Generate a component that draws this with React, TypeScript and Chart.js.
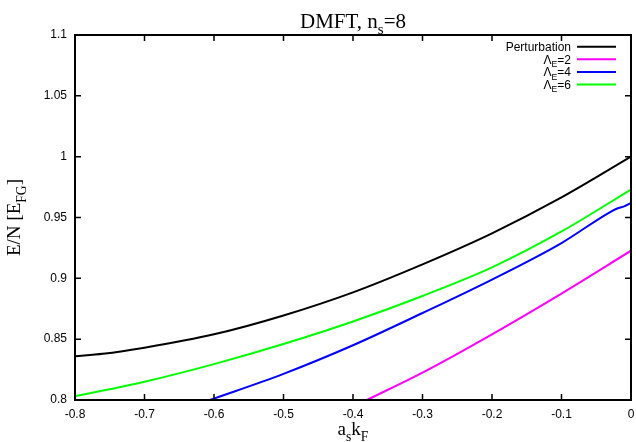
import { useEffect, useRef } from 'react';
import { Chart, registerables } from 'chart.js';

Chart.register(...registerables);

const xTicks = [-0.8, -0.7, -0.6, -0.5, -0.4, -0.3, -0.2, -0.1, 0];
const xTickLabels = ['-0.8', '-0.7', '-0.6', '-0.5', '-0.4', '-0.3', '-0.2', '-0.1', '0'];
const yTicks = [0.8, 0.85, 0.9, 0.95, 1, 1.05, 1.1];
const yTickLabels = ['0.8', '0.85', '0.9', '0.95', '1', '1.05', '1.1'];

const xPert = [-0.8, -0.76, -0.7, -0.6, -0.5, -0.4, -0.3, -0.2, -0.1, 0];
const yPert = [0.836, 0.838, 0.843, 0.854, 0.8695, 0.8885, 0.9115, 0.937, 0.9665, 1.0];

const xL2 = [-0.38, -0.3, -0.2, -0.1, 0];
const yL2 = [0.8, 0.8225, 0.854, 0.8875, 0.9227];

const xL4 = [-0.606, -0.5, -0.4, -0.3, -0.2, -0.1, -0.03, -0.018, -0.01, 0];
const yL4 = [0.8, 0.8215, 0.845, 0.8715, 0.899, 0.929, 0.9545, 0.9578, 0.9592, 0.962];

const xL6 = [-0.8, -0.7, -0.6, -0.5, -0.4, -0.3, -0.2, -0.1, 0];
const yL6 = [0.803, 0.815, 0.8295, 0.846, 0.8645, 0.8855, 0.909, 0.9385, 0.973];

type Seg = { t: string; sub?: boolean };

const seriesNames: Seg[][] = [
  [{ t: 'Perturbation' }],
  [{ t: 'Λ' }, { t: 'E', sub: true }, { t: '=2' }],
  [{ t: 'Λ' }, { t: 'E', sub: true }, { t: '=4' }],
  [{ t: 'Λ' }, { t: 'E', sub: true }, { t: '=6' }],
];
const seriesColors = ['#000000', '#ff00ff', '#0000ff', '#00ff00'];

const titleSegs: Seg[] = [{ t: 'DMFT, n' }, { t: 's', sub: true }, { t: '=8' }];
const xTitleSegs: Seg[] = [{ t: 'a' }, { t: 's', sub: true }, { t: 'k' }, { t: 'F', sub: true }];
const yTitleSegs: Seg[] = [{ t: 'E/N [E' }, { t: 'FG', sub: true }, { t: ']' }];

const SERIF = '"Liberation Serif", "Times New Roman", serif';
const SANS = '"Liberation Sans", Arial, sans-serif';

function drawRich(
  ctx: CanvasRenderingContext2D,
  segs: Seg[],
  x: number,
  y: number,
  size: number,
  family: string,
  align: 'left' | 'center' | 'right'
) {
  const subSize = size * 0.72;
  const widths = segs.map((s) => {
    ctx.font = `${s.sub ? subSize : size}px ${family}`;
    return ctx.measureText(s.t).width;
  });
  const total = widths.reduce((a, b) => a + b, 0);
  let cx = align === 'center' ? x - total / 2 : align === 'right' ? x - total : x;
  ctx.textAlign = 'left';
  ctx.textBaseline = 'alphabetic';
  segs.forEach((s, i) => {
    ctx.font = `${s.sub ? subSize : size}px ${family}`;
    ctx.fillText(s.t, cx, y + (s.sub ? size * 0.3 : 0));
    cx += widths[i];
  });
}

const decorPlugin = {
  id: 'decor',
  afterDraw(chart: any) {
    const ctx: CanvasRenderingContext2D = chart.ctx;
    const { left, right, top, bottom } = chart.chartArea;
    const xs = chart.scales.x;
    const ys = chart.scales.y;
    ctx.save();
    ctx.strokeStyle = '#000';
    ctx.fillStyle = '#000';
    ctx.lineWidth = 1.5;
    const tl = 6;
    ctx.beginPath();
    xTicks.forEach((v) => {
      const px = xs.getPixelForValue(v);
      ctx.moveTo(px, bottom);
      ctx.lineTo(px, bottom - tl);
      ctx.moveTo(px, top);
      ctx.lineTo(px, top + tl);
    });
    yTicks.forEach((v) => {
      const py = ys.getPixelForValue(v);
      ctx.moveTo(left, py);
      ctx.lineTo(left + tl, py);
      ctx.moveTo(right, py);
      ctx.lineTo(right - tl, py);
    });
    ctx.stroke();
    ctx.lineWidth = 2;
    ctx.strokeRect(left, top, right - left, bottom - top);

    const legendTextRight = 571;
    const lineX0 = 577;
    const lineX1 = 616;
    const rowY0 = 46.7;
    const rowStep = 12.6;
    seriesNames.forEach((segs, i) => {
      const cy = rowY0 + i * rowStep;
      ctx.fillStyle = '#000';
      drawRich(ctx, segs, legendTextRight, cy + 4.3, 12, SANS, 'right');
      ctx.strokeStyle = seriesColors[i];
      ctx.lineWidth = 2;
      ctx.beginPath();
      ctx.moveTo(lineX0, cy);
      ctx.lineTo(lineX1, cy);
      ctx.stroke();
    });

    ctx.fillStyle = '#000';
    const cxPlot = (left + right) / 2;
    drawRich(ctx, titleSegs, cxPlot, 28, 21, SERIF, 'center');
    drawRich(ctx, xTitleSegs, cxPlot, 435, 19, SERIF, 'center');
    ctx.save();
    ctx.translate(20, (top + bottom) / 2);
    ctx.rotate(-Math.PI / 2);
    drawRich(ctx, yTitleSegs, 0, 0, 19, SERIF, 'center');
    ctx.restore();

    ctx.restore();
  },
};

export default function App() {
  const ref = useRef<HTMLCanvasElement | null>(null);
  useEffect(() => {
    document.body.style.margin = '0';
    if (!ref.current) return;
    const mk = (xv: number[], yv: number[], color: string) => ({
      data: xv.map((x, i) => ({ x, y: yv[i] })),
      borderColor: color,
      backgroundColor: color,
      borderWidth: 2,
      pointRadius: 0,
      showLine: true,
      fill: false,
      cubicInterpolationMode: 'monotone' as const,
    });
    const chart = new Chart(ref.current, {
      type: 'scatter',
      data: {
        datasets: [
          mk(xPert, yPert, seriesColors[0]),
          mk(xL2, yL2, seriesColors[1]),
          mk(xL4, yL4, seriesColors[2]),
          mk(xL6, yL6, seriesColors[3]),
        ],
      },
      options: {
        responsive: false,
        animation: false,
        layout: { padding: { top: 35, right: 5, left: 0, bottom: 0 } },
        plugins: {
          legend: { display: false },
          title: { display: false },
          tooltip: { enabled: false },
        },
        scales: {
          x: {
            type: 'linear',
            min: -0.8,
            max: 0,
            afterBuildTicks: (s: any) => {
              s.ticks = xTicks.map((v) => ({ value: v }));
            },
            afterFit: (s: any) => {
              s.height = 42;
              s.paddingLeft = 0;
              s.paddingRight = 0;
            },
            ticks: {
              callback: (_v: any, i: number) => xTickLabels[i],
              font: { family: SANS, size: 12 },
              color: '#000',
              padding: 7,
              maxRotation: 0,
              autoSkip: false,
            },
            grid: { display: false, drawTicks: false },
            border: { display: false },
          },
          y: {
            type: 'linear',
            min: 0.8,
            max: 1.1,
            afterBuildTicks: (s: any) => {
              s.ticks = yTicks.map((v) => ({ value: v }));
            },
            afterFit: (s: any) => {
              s.width = 75;
              s.paddingTop = 0;
              s.paddingBottom = 0;
            },
            ticks: {
              callback: (_v: any, i: number) => yTickLabels[i],
              font: { family: SANS, size: 12 },
              color: '#000',
              padding: 8,
              autoSkip: false,
            },
            grid: { display: false, drawTicks: false },
            border: { display: false },
          },
        },
      },
      plugins: [decorPlugin],
    });
    return () => chart.destroy();
  }, []);
  return (
    <div style={{ width: 636, height: 442, background: '#fff' }}>
      <canvas ref={ref} width={636} height={442} style={{ display: 'block' }} />
    </div>
  );
}
